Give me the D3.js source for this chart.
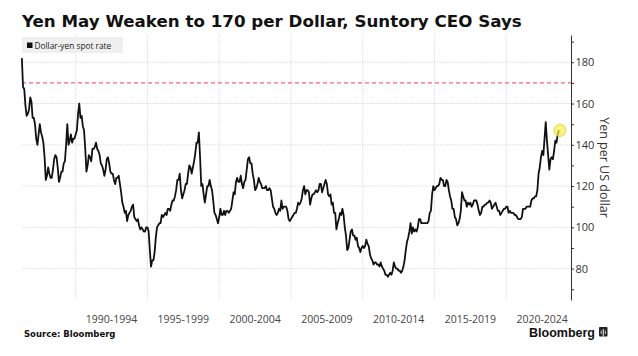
<!DOCTYPE html>
<html><head><meta charset="utf-8">
<script src="https://cdn.jsdelivr.net/npm/d3@7"></script>
<style>body{margin:0;background:#fff}svg{display:block}</style>
</head><body><svg id="c" width="638" height="356"></svg>
<script>
const title = "Yen May Weaken to 170 per Dollar, Suntory CEO Says";
const seriesName = "Dollar-yen spot rate";
const axisTitle = "Yen per US dollar";
const sourceText = "Source: Bloomberg";
const brandText = "Bloomberg";

// monthly dollar-yen readings, first one = April 1986
const startYear = 1986.25;
const rates1986to1989 = [182,168,167,159,154,155,157,163,161,
  153,153,150,143,140,145,150,146,144,141,134,123,
  125,129,126,124,124,128,133,135,134,129,122,124,
  127,127,131,132,140,150,140,142,145,141,143,143];
const rates1990to1994 = [145,147,155,160,153,154,149,147,138,127,130,135,
  134,132,138,138,139,141,138,137,135,131,130,128,
  125,128,133,134,131,127,126,126,123,121,124,124,
  125,121,117,112,110,107,108,103,106,107,108,110,
  111,105,104,103,104,101,99,100,99,98,98,100];
const rates1995to1999 = [100,98,89,81,84,84,88,95,100,101,102,102,
  106,105,106,107,106,109,109,108,111,113,113,115,
  118,123,123,126,118,114,116,118,121,121,126,130,
  129,126,129,132,136,141,141,146,134,120,121,116,
  112,116,120,120,123,120,118,113,107,106,104,102];
const rates2000to2004 = [105,109,106,106,108,106,108,108,107,108,109,113,
  117,116,122,124,122,122,125,121,119,122,123,128,
  133,134,131,131,126,123,118,119,121,124,122,121,
  119,119,119,120,118,118,119,118,114,110,109,107,
  106,107,109,108,113,109,110,110,110,108,104,103];
const rates2005to2009 = [104,105,106,107,107,109,112,111,112,114,118,120,
  116,118,118,117,111,114,116,116,117,118,117,118,
  121,121,117,119,121,123,121,116,115,116,111,112,
  107,107,99,102,104,107,106,109,106,100,96,89,
  90,94,98,99,96,96,94,95,91,90,88,90];
const rates2010to2014 = [91,90,91,94,92,91,87,85,84,82,83,83,
  82,82,81,83,81,80,79,77,77,76,77,78,
  77,79,83,81,80,80,79,79,78,79,81,84,
  89,93,95,98,102,97,100,98,99,98,100,104,
  104,102,102,102,102,102,102,103,107,108,116,120];
const rates2015to2019 = [118,119,120,120,121,124,123,123,120,120,123,122,
  118,115,113,109,109,105,104,101,102,104,108,117,
  115,113,113,110,112,111,112,110,111,113,113,113,
  111,108,106,107,110,110,111,111,112,112,113,112,
  109,110,111,112,110,108,108,106,107,108,109,109];
const rates2020to2023 = [110,110,107,108,107,107,107,106,106,105,104,104,
  104,105,109,109,109,110,110,110,110,113,114,114,
  115,115,118,126,129,134,137,135,143,151,142,135,
  128,133,134,133,137,142,141,145,147];

const periodStarts = [1990,1995,2000,2005,2010,2015,2020];
const periodLabels = ["1990-1994","1995-1999","2000-2004","2005-2009","2010-2014","2015-2019","2020-2024"];
const yMajorTicks = [80,100,120,140,160,180];
const yMinorTicks = [70,90,110,130,150,170,190];
const targetLevel = 170;
const xDomain = [1986.26, 2024.51];
const yDomain = [64.8, 193.2];

const values = [].concat(rates1986to1989, rates1990to1994, rates1995to1999, rates2000to2004,
  rates2005to2009, rates2010to2014, rates2015to2019, rates2020to2023);
const data = values.map((v,i)=>({t:startYear + i/12, v}));

const svg = d3.select("#c");
const L = 22, R = 571, T = 35, B = 300;
const x = d3.scaleLinear().domain(xDomain).range([L,R]);
const y = d3.scaleLinear().domain(yDomain).range([B,T]);

// title
const tt = svg.append("text").attr("x",22).attr("y",27)
  .attr("font-family","DejaVu Sans").attr("font-weight","bold").attr("font-size",18)
  .attr("fill","#111").text(title);
const tw = tt.node().getComputedTextLength();
tt.attr("font-size", 18*500/tw);

// grid
svg.append("g").selectAll("line").data(periodStarts).join("line")
  .attr("x1",d=>x(d)).attr("x2",d=>x(d)).attr("y1",T).attr("y2",B)
  .attr("stroke","#dedede").attr("stroke-width",1).attr("stroke-dasharray","1.5,1");
svg.append("g").selectAll("line").data(yMajorTicks).join("line")
  .attr("x1",L).attr("x2",R).attr("y1",d=>y(d)).attr("y2",d=>y(d))
  .attr("stroke","#dedede").attr("stroke-width",1).attr("stroke-dasharray","1.5,1");

// target line
svg.append("line").attr("x1",L).attr("x2",R).attr("y1",y(targetLevel)).attr("y2",y(targetLevel))
  .attr("stroke","#f0667f").attr("stroke-width",1.4).attr("stroke-dasharray","4,3");

// x labels
svg.append("g").selectAll("text").data(periodStarts).join("text")
  .attr("x",d=>x(d+2.5)).attr("y",323).attr("text-anchor","middle")
  .attr("font-family","Open Sans").attr("font-size",10.5).attr("fill","#444")
  .text((d,i)=>periodLabels[i]);

// right axis
const gMinor = svg.append("g").attr("transform",`translate(${R},0)`)
  .call(d3.axisRight(y).tickValues(yMinorTicks).tickSize(3).tickSizeOuter(0).tickFormat(""));
gMinor.select(".domain").remove();
const gAxis = svg.append("g").attr("transform",`translate(${R},0)`)
  .call(d3.axisRight(y).tickValues(yMajorTicks).tickSize(3).tickPadding(1.5).tickSizeOuter(0));
gAxis.select(".domain").attr("stroke","#333");
svg.selectAll(".tick line").attr("stroke","#333");
gAxis.selectAll("text").attr("font-family","Open Sans").attr("font-size",11).attr("fill","#333");
svg.append("text").attr("transform",`translate(600,${(T+B)/2}) rotate(90)`)
  .attr("text-anchor","middle").attr("font-family","Open Sans").attr("font-size",12.5)
  .attr("fill","#333").text(axisTitle);

// line
svg.append("path").datum(data)
  .attr("d", d3.line().x(d=>x(d.t)).y(d=>y(d.v)))
  .attr("fill","none").attr("stroke","#111").attr("stroke-width",1.8).attr("stroke-linejoin","round");

// highlight circle at last point
const last = data[data.length-1];
svg.append("circle").attr("cx",x(last.t)+1).attr("cy",y(last.v)).attr("r",6)
  .attr("fill","#f4ee4c").attr("fill-opacity",0.7).attr("stroke","#e2d84a").attr("stroke-width",1);

// legend
svg.append("rect").attr("x",22).attr("y",37).attr("width",101).attr("height",16).attr("fill","#efefef");
svg.append("rect").attr("x",27).attr("y",42.5).attr("width",5.5).attr("height",5.5).attr("fill","#111");
svg.append("text").attr("x",34.5).attr("y",48.5).attr("font-family","Open Sans").attr("font-size",8.3)
  .attr("fill","#222").text(seriesName);

// footer
svg.append("text").attr("x",24).attr("y",337).attr("font-family","DejaVu Sans").attr("font-weight","bold")
  .attr("font-size",8.5).attr("fill","#111").text(sourceText);
svg.append("text").attr("x",595).attr("y",337).attr("text-anchor","end").attr("font-family","Liberation Sans")
  .attr("font-weight","bold").attr("font-size",12.5).attr("fill","#111").text(brandText);
const lg = svg.append("g").attr("transform","translate(599,327)");
lg.append("rect").attr("width",8.5).attr("height",9.5).attr("rx",1).attr("fill","#222");
lg.append("line").attr("x1",4.25).attr("x2",4.25).attr("y1",2).attr("y2",9.5).attr("stroke","#fff").attr("stroke-width",1);
lg.append("line").attr("x1",2.2).attr("x2",2.2).attr("y1",3.5).attr("y2",7).attr("stroke","#fff").attr("stroke-width",0.8);
lg.append("line").attr("x1",6.3).attr("x2",6.3).attr("y1",3.5).attr("y2",7).attr("stroke","#fff").attr("stroke-width",0.8);
</script></body></html>
